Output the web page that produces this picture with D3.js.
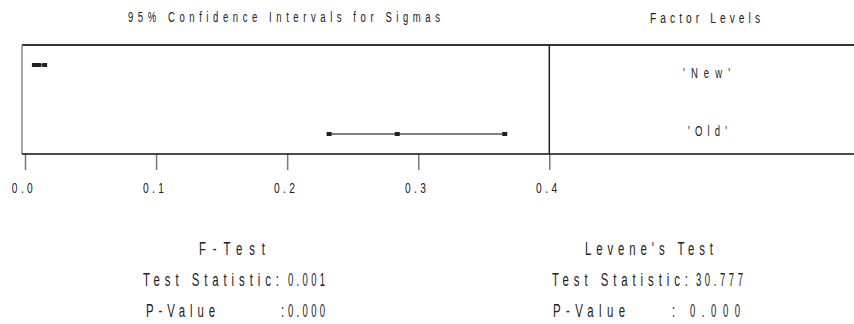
<!DOCTYPE html>
<html><head><meta charset="utf-8">
<script src="https://cdn.jsdelivr.net/npm/d3@7"></script>
<style>body{margin:0;background:#fff}svg{display:block}text{font-family:"Liberation Sans",Arial,sans-serif;fill:#222;white-space:pre}</style>
</head><body>
<script>
const levels = ["'New'", "'Old'"];
const lower = [0.0072, 0.232];
const center = [0.0105, 0.284];
const upper = [0.0150, 0.366];
const ticks = [0.0, 0.1, 0.2, 0.3, 0.4];
const tickLabels = ["0.0", "0.1", "0.2", "0.3", "0.4"];
const fTitle = "F-Test";
const fStat = ["Test Statistic:", "0.001"];
const fP = ["P-Value", ":", "0.000"];
const lTitle = "Levene's Test";
const lStat = ["Test Statistic:", "30.777"];
const lP = ["P-Value", ":", "0.000"];

(function () {
const W = 854, H = 324;
const svg = d3.select("body").append("svg").attr("width", W).attr("height", H);

// fit text: starts at x0 (left) and spans width w, compressed horizontally
function fit(str, x0, yb, size, w, sx) {
  const g = svg.append("g").attr("transform", `translate(${x0},${yb}) scale(${sx},1)`);
  const t = g.append("text").attr("x", 0).attr("y", 0).attr("font-size", size).text(str);
  const nat = t.node().getComputedTextLength();
  const n = str.length;
  if (n > 1 && w) {
    const ls = (w / sx - nat) / (n - 1);
    t.style("letter-spacing", ls + "px");
  }
  return t;
}

const x = d3.scaleLinear().domain([0, 0.4]).range([25, 549.3]);
const y = d3.scalePoint().domain(levels).range([65, 134]);
const yTop = 45, yBot = 154, xLeft = 22;

// frame
svg.append("line").attr("x1", xLeft).attr("x2", W).attr("y1", yTop).attr("y2", yTop).attr("stroke", "#333").attr("stroke-width", 2);
svg.append("line").attr("x1", xLeft).attr("x2", xLeft).attr("y1", yTop).attr("y2", yBot).attr("stroke", "#888").attr("stroke-width", 1.5);
svg.append("line").attr("x1", x(0.4)).attr("x2", x(0.4)).attr("y1", yTop).attr("y2", yBot).attr("stroke", "#222").attr("stroke-width", 1.5);

// axis
const axis = d3.axisBottom(x).tickValues(ticks).tickSize(16).tickFormat((d, i) => tickLabels[i]);
const g = svg.append("g").attr("transform", `translate(0,${yBot})`).call(axis);
g.select(".domain").remove();
g.selectAll(".tick line").attr("stroke", "#777").attr("stroke-width", 1.5);
g.selectAll(".tick text").attr("y", 39).attr("dy", null).attr("font-size", 15).attr("font-family", null)
  .attr("transform", "translate(-1.5,0) scale(0.68,1)").style("letter-spacing", "5px").attr("fill", "#222");
svg.append("line").attr("x1", xLeft).attr("x2", W).attr("y1", yBot).attr("y2", yBot).attr("stroke", "#111").attr("stroke-width", 1.5);

// intervals
const labBase = [78, 136];
const labX = [683, 688], labW = [47, 39];
levels.forEach((lv, i) => {
  const yy = y(lv);
  svg.append("line").attr("x1", x(lower[i])).attr("x2", x(upper[i])).attr("y1", yy).attr("y2", yy).attr("stroke", "#555").attr("stroke-width", 1.5);
  [lower[i], center[i], upper[i]].forEach(v => {
    svg.append("rect").attr("x", x(v) - 2.5).attr("y", yy - 2).attr("width", 5).attr("height", 4).attr("fill", "#222");
  });
  fit(lv, labX[i], labBase[i], 14, labW[i], 0.68);
});

// titles
fit("95% Confidence Intervals for Sigmas", 128, 22, 14, 312, 0.68);
fit("Factor Levels", 650, 22.5, 15, 110, 0.68);

// tests
const S = 0.6, D = 0.5;
const rowsY = [255, 286, 317];
fit(fTitle, 199, rowsY[0], 19, 66, S);
fit(fStat[0], 143, rowsY[1], 19, 136, S);
fit(fStat[1], 288, rowsY[1], 19, 37, D);
fit(fP[0], 146, rowsY[2], 19, 69, S);
fit(fP[1], 281, rowsY[2], 19, 0, S);
fit(fP[2], 288, rowsY[2], 19, 37, D);

fit(lTitle, 585, rowsY[0], 19, 128, S);
fit(lStat[0], 552, rowsY[1], 19, 136, S);
fit(lStat[1], 696, rowsY[1], 19, 47, D);
fit(lP[0], 553, rowsY[2], 19, 72, S);
fit(lP[1], 672, rowsY[2], 19, 0, S);
fit(lP[2], 690, rowsY[2], 19, 50, D);
})();
</script>
</body></html>
